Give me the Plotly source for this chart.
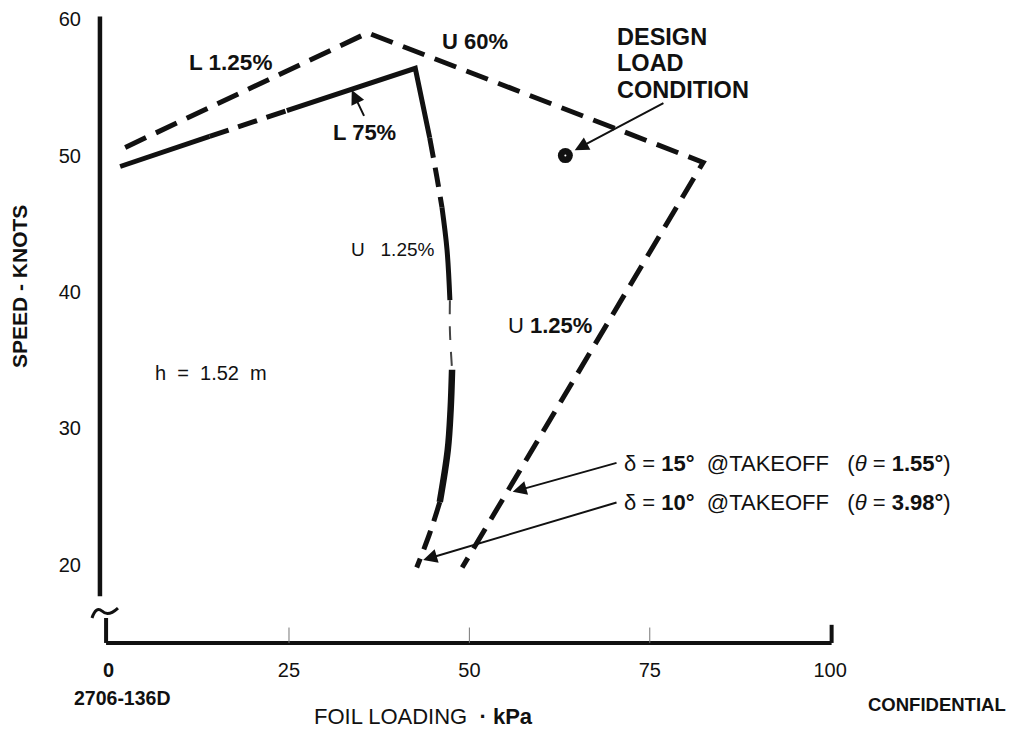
import plotly.graph_objects as go

# Foil loading (kPa) and speed (knots) along the outer (dashed) boundary
outer_load = [2.3, 35.9, 82.4, 49.0]
outer_speed = [50.6, 59.0, 49.5, 19.8]

# Inner boundary: L 75% branch then U 1.25% branch
inner_load = [1.6, 14.0, 24.7, 42.5, 44.5, 45.5, 46.2, 46.9, 47.3, 47.3,
              47.6, 47.4, 47.0, 45.9, 44.5, 42.7]
inner_speed = [49.2, 51.4, 53.3, 56.4, 51.3, 48.4, 46.2, 43.1, 39.4, 37.2,
               34.3, 31.4, 28.4, 24.6, 22.3, 19.8]
# (first index, last index, stroke) for each stretch of the inner boundary
inner_runs = [(0, 1, "solid"), (1, 2, "dash"), (2, 4, "solid"), (4, 6, "dash"),
              (6, 8, "solid"), (8, 10, "thin"), (10, 13, "heavy"), (13, 15, "dash")]

design_load = [63.3]
design_speed = [50.0]

x_ticks = [0, 25, 50, 75, 100]
x_tick_text = ["<b>0</b>", "25", "50", "75", "100"]
y_ticks = [20, 30, 40, 50, 60]
y_tick_text = ["20", "30", "40", "50", "60"]

FONT = "Liberation Sans, Arial, sans-serif"
INK = "#111111"

strokes = {
    "solid": dict(width=5, dash="solid", color=INK),
    "heavy": dict(width=6.5, dash="solid", color=INK),
    "dash": dict(width=5, dash="20px,10px", color=INK),
    "thin": dict(width=2, dash="14px,12px", color="#444444"),
}

fig = go.Figure()

fig.add_trace(go.Scatter(
    x=outer_load, y=outer_speed, mode="lines",
    line=dict(width=5, dash="23px,11px", color=INK),
    hoverinfo="skip", showlegend=False))

for i0, i1, kind in inner_runs:
    shape = "linear" if i0 <= 3 <= i1 else "spline"
    fig.add_trace(go.Scatter(
        x=inner_load[i0:i1 + 1], y=inner_speed[i0:i1 + 1], mode="lines",
        line=dict(shape=shape, **strokes[kind]),
        hoverinfo="skip", showlegend=False))

fig.add_trace(go.Scatter(
    x=design_load, y=design_speed, mode="markers",
    marker=dict(size=15, color=INK, symbol="circle"),
    hoverinfo="skip", showlegend=False))
fig.add_trace(go.Scatter(
    x=design_load, y=design_speed, mode="markers",
    marker=dict(size=2, color="white", symbol="circle"),
    hoverinfo="skip", showlegend=False))

# Axis frame with the broken speed axis
x_axis_y = 14.27
axis_left = -1.2
shapes = [
    dict(type="line", x0=axis_left, x1=axis_left, y0=60.2, y1=17.7,
         line=dict(color=INK, width=4.5)),
    dict(type="line", x0=-0.35, x1=-0.35, y0=16.1, y1=x_axis_y,
         line=dict(color=INK, width=4)),
    dict(type="line", x0=-0.35, x1=100.2, y0=x_axis_y, y1=x_axis_y,
         line=dict(color=INK, width=4)),
    dict(type="line", x0=100.2, x1=100.2, y0=x_axis_y, y1=15.6,
         line=dict(color=INK, width=4)),
    dict(type="path",
         path="M -2.30,16.10 Q -1.75,16.98 -0.91,16.61 Q -0.08,16.17 1.30,16.83",
         line=dict(color=INK, width=3)),
]
for t in x_ticks[1:-1]:
    shapes.append(dict(type="line", x0=t, x1=t, y0=x_axis_y, y1=15.4,
                       line=dict(color="#777777", width=1)))


def label(text, x, y, size=20, xanchor="center", ref="data", **kw):
    xref, yref = ("x", "y") if ref == "data" else ("paper", "paper")
    return dict(text=text, x=x, y=y, xref=xref, yref=yref, showarrow=False,
                xanchor=xanchor, yanchor="middle",
                font=dict(family=FONT, size=size, color=INK), **kw)


def pointer(x, y, ax, ay):
    return dict(text="", x=x, y=y, ax=ax, ay=ay, xref="x", yref="y",
                axref="x", ayref="y", showarrow=True, arrowhead=2,
                arrowsize=1.4, arrowwidth=2, arrowcolor=INK)


nb = "\u00a0"
annotations = [
    label("<b>L 1.25%</b>", 16.85, 56.79, size=22.5),
    label("<b>U 60%</b>", 50.8, 58.4, size=22),
    label("<b>DESIGN</b>", 70.2, 58.70, size=23.5, xanchor="left"),
    label("<b>LOAD</b>", 70.2, 56.79, size=23.5, xanchor="left"),
    label("<b>CONDITION</b>", 70.2, 54.81, size=23.5, xanchor="left"),
    label("<b>L 75%</b>", 35.5, 51.66, size=22),
    label("U" + nb * 3 + "1.25%", 39.35, 43.15, size=19),
    label("U <b>1.25%</b>", 61.2, 37.58, size=22),
    label("h" + nb * 2 + "=" + nb * 2 + "1.52" + nb * 2 + "m", 14.2, 34.06, size=20),
    label("δ = <b>15°</b>" + nb * 2 + "@TAKEOFF" + nb * 3 + "(<i>θ</i> = <b>1.55°</b>)",
          71.15, 27.4, size=22, xanchor="left"),
    label("δ = <b>10°</b>" + nb * 2 + "@TAKEOFF" + nb * 3 + "(<i>θ</i> = <b>3.98°</b>)",
          71.15, 24.6, size=22, xanchor="left"),
    # labels outside the plotting area
    label("FOIL LOADING" + nb * 2 + "<b>·" + nb + "kPa</b>", 0.3725, -0.1058,
          size=22, ref="paper"),
    label("<b>SPEED - KNOTS</b>", -0.0754, 0.563, size=21, ref="paper",
          textangle=-90),
    label("<b>2706-136D</b>", 0.0377, -0.0778, size=19.5, ref="paper"),
    label("<b>CONFIDENTIAL</b>", 0.9412, -0.0886, size=18.5, ref="paper"),
    pointer(64.6, 50.4, 77.1, 53.9),
    pointer(33.7, 54.8, 35.5, 52.8),
    pointer(56.0, 25.35, 70.6, 27.5),
    pointer(43.6, 20.35, 70.6, 24.6),
]

fig.update_layout(
    width=1016, height=730,
    margin=dict(l=88, r=26, t=5, b=82, autoexpand=False),
    paper_bgcolor="white", plot_bgcolor="white",
    template="none",
    shapes=shapes, annotations=annotations,
    font=dict(family=FONT, color=INK),
)
fig.update_xaxes(range=[-2.855, 122.15], showgrid=False, zeroline=False,
                 showline=False, ticks="", tickvals=x_ticks, ticktext=x_tick_text,
                 tickfont=dict(family=FONT, size=20, color=INK),
                 ticklabelstandoff=8, automargin=False)
fig.update_yaxes(range=[13.90, 61.04], showgrid=False, zeroline=False,
                 showline=False, ticks="", tickvals=y_ticks, ticktext=y_tick_text,
                 tickfont=dict(family=FONT, size=20, color=INK),
                 ticklabelstandoff=6, automargin=False)

fig.write_html("out.html")
